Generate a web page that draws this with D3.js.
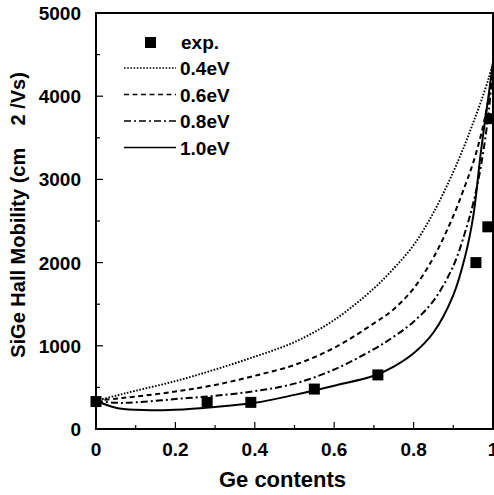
<!DOCTYPE html>
<html>
<head>
<meta charset="utf-8">
<script src="https://cdn.jsdelivr.net/npm/d3@7"></script>
<style>
  body { margin: 0; background: #fff; }
  text { font-family: "Liberation Sans", Arial, sans-serif; font-weight: bold; fill: #000; }
</style>
</head>
<body>
<svg width="494" height="495"></svg>
<script>
// experimental points
const expX = [0, 0.28, 0.39, 0.55, 0.71, 0.957, 0.987, 0.993]
const expY = [330, 320, 320, 480, 650, 2000, 2430, 3730]

// model curves, common Ge content grid
const gridX = [0, 0.05, 0.1, 0.2, 0.3, 0.4, 0.5, 0.6, 0.7, 0.75, 0.8, 0.85, 0.9, 0.93, 0.95, 0.97, 0.99, 1.0]
const mu04 = [340, 400, 460, 575, 715, 870, 1045, 1310, 1690, 1930, 2210, 2600, 3090, 3430, 3680, 3940, 4230, 4400]
const mu06 = [340, 365, 390, 450, 530, 640, 770, 975, 1270, 1440, 1690, 2060, 2560, 2930, 3200, 3540, 4000, 4400]
const mu08 = [340, 315, 320, 360, 400, 455, 545, 715, 960, 1110, 1290, 1540, 1960, 2370, 2710, 3170, 3850, 4400]
const mu10 = [340, 255, 230, 232, 265, 315, 410, 520, 640, 750, 910, 1160, 1610, 2080, 2550, 3350, 4050, 4400]

const seriesNames = ["0.4eV", "0.6eV", "0.8eV", "1.0eV"]
const xTicks = [0, 0.2, 0.4, 0.6, 0.8, 1]
const xTickLabels = ["0", "0.2", "0.4", "0.6", "0.8", "1"]
const yTicks = [0, 1000, 2000, 3000, 4000, 5000]

const svg = d3.select("svg"),
    margin = {top: 13, right: 1, bottom: 66, left: 96},
    width = +svg.attr("width") - margin.left - margin.right,
    height = +svg.attr("height") - margin.top - margin.bottom

const x = d3.scaleLinear().domain([0, 1]).range([0, width])
const y = d3.scaleLinear().domain([0, 5000]).range([height, 0])

const g = svg.append("g")
  .attr("transform", "translate(" + margin.left + "," + margin.top + ")")

// ticks (inward)
const xMinor = d3.range(0, 1.001, 0.1)
const yMinor = d3.range(0, 5001, 500)

g.selectAll(".xminor").data(xMinor).enter().append("line")
  .attr("x1", d => x(d)).attr("x2", d => x(d))
  .attr("y1", height).attr("y2", d => height - (Math.round(d * 10) % 2 ? 4 : 7))
  .attr("stroke", "#000").attr("stroke-width", 1.2)

g.selectAll(".yminor").data(yMinor).enter().append("line")
  .attr("y1", d => y(d)).attr("y2", d => y(d))
  .attr("x1", 0).attr("x2", d => (d % 1000 ? 4 : 7))
  .attr("stroke", "#000").attr("stroke-width", 1.2)

// tick labels
g.selectAll(".xlab").data(xTicks).enter().append("text")
  .attr("x", d => x(d)).attr("y", height + 27)
  .attr("text-anchor", "middle")
  .attr("font-size", 19)
  .text((d, i) => xTickLabels[i])

g.selectAll(".ylab").data(yTicks).enter().append("text")
  .attr("x", -15).attr("y", d => y(d) + 7)
  .attr("text-anchor", "end")
  .attr("font-size", 19)
  .text(d => d)

// frame
g.append("rect")
  .attr("width", width).attr("height", height)
  .attr("fill", "none").attr("stroke", "#000").attr("stroke-width", 2)

// axis titles
svg.append("text")
  .attr("x", margin.left + width / 2 - 12).attr("y", 487)
  .attr("text-anchor", "middle")
  .attr("font-size", 22)
  .text("Ge contents")

svg.append("text")
  .attr("transform", "translate(25,215) rotate(-90)")
  .attr("text-anchor", "middle")
  .attr("font-size", 20)
  .attr("xml:space", "preserve")
  .text("SiGe Hall Mobility (cm    2 /Vs)")

// curves
const styles = [
  {dash: "1.6,1.6", w: 1.9},
  {dash: "5,3.5", w: 2},
  {dash: "7,3,2,3", w: 2},
  {dash: null, w: 2}
]
const curves = [mu04, mu06, mu08, mu10]

const line = d3.line()
  .x(d => x(d[0]))
  .y(d => y(d[1]))
  .curve(d3.curveCatmullRom.alpha(0.5))

curves.forEach((vals, i) => {
  g.append("path")
    .datum(gridX.map((gx, j) => [gx, vals[j]]))
    .attr("d", line)
    .attr("fill", "none")
    .attr("stroke", "#000")
    .attr("stroke-width", styles[i].w)
    .attr("stroke-dasharray", styles[i].dash)
})

// experimental squares
const sq = 11
g.selectAll(".exp").data(expX).enter().append("rect")
  .attr("x", d => x(d) - sq / 2)
  .attr("y", (d, i) => y(expY[i]) - sq / 2)
  .attr("width", sq).attr("height", sq)
  .attr("fill", "#000")

// legend
const leg = svg.append("g").attr("transform", "translate(124,42)")
leg.append("rect")
  .attr("x", 21).attr("y", -5).attr("width", 11).attr("height", 11).attr("fill", "#000")
leg.append("text").attr("x", 57).attr("y", 6.5).attr("font-size", 19).text("exp.")

seriesNames.forEach((name, i) => {
  const yy = 26 + i * 26.5
  leg.append("line")
    .attr("x1", 0).attr("x2", 52).attr("y1", yy).attr("y2", yy)
    .attr("stroke", "#000")
    .attr("stroke-width", styles[i].w - 0.4)
    .attr("stroke-dasharray", styles[i].dash)
  leg.append("text").attr("x", 56).attr("y", yy + 7).attr("font-size", 19).text(name)
})
</script>
</body>
</html>
